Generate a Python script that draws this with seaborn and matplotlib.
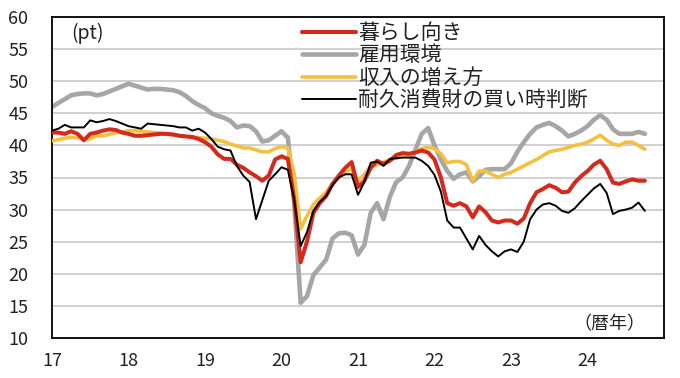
import numpy as np
import pandas as pd
import matplotlib
matplotlib.use("Agg")
import matplotlib.pyplot as plt
import seaborn as sns

# ---- data (monthly, Jan 2017 - Oct 2024) ----
start_year = 2017
labels = ["暮らし向き", "雇用環境", "収入の増え方", "耐久消費財の買い時判断"]

kurashi = [
    42.0, 42.0, 41.8, 42.2, 41.8, 40.8, 41.8, 42.0, 42.3, 42.5, 42.4, 42.0,
    41.8, 41.5, 41.5, 41.6, 41.7, 41.8, 41.8, 41.7, 41.5, 41.4, 41.3, 41.0,
    40.5, 39.8, 38.6, 37.9, 37.9, 37.0, 36.5, 35.8, 35.2, 34.5, 35.3, 37.8,
    38.3, 37.9, 31.5, 21.8, 25.0, 29.5, 31.0, 32.1, 34.0, 35.3, 36.5, 37.4,
    33.5, 34.5, 36.5, 37.6, 37.1, 37.6, 38.5, 38.8, 38.7, 38.9, 39.2, 38.9,
    37.8, 35.0, 31.0, 30.6, 31.0, 30.5, 28.8, 30.5, 29.6, 28.3, 28.0, 28.3,
    28.3, 27.8, 28.6, 31.0, 32.7, 33.2, 33.8, 33.4, 32.7, 32.8, 34.2, 35.2,
    36.0, 37.0, 37.6, 36.3, 34.2, 34.0, 34.4, 34.7, 34.5, 34.5]

koyo = [
    46.0, 46.6, 47.2, 47.8, 48.0, 48.1, 48.1, 47.8, 48.0, 48.4, 48.8, 49.2,
    49.6, 49.3, 49.0, 48.7, 48.8, 48.8, 48.7, 48.6, 48.3, 47.7, 46.9, 46.3,
    45.8, 45.0, 44.6, 44.3, 43.8, 42.8, 43.1, 43.0, 42.2, 40.6, 40.8, 41.5,
    42.2, 41.2, 31.0, 15.5, 16.5, 19.8, 21.0, 22.2, 25.5, 26.3, 26.4, 26.0,
    23.0, 24.5, 29.5, 31.0, 28.5, 32.0, 34.3, 35.0, 36.8, 39.3, 41.8, 42.7,
    40.0, 37.8, 36.0, 34.8, 35.5, 35.8, 34.4, 35.2, 36.2, 36.3, 36.3, 36.3,
    37.2, 39.0, 40.5, 41.8, 42.8, 43.2, 43.5, 43.0, 42.3, 41.4, 41.8, 42.3,
    43.0, 44.0, 44.7, 44.0, 42.5, 41.8, 41.8, 41.8, 42.1, 41.8]

shunyu = [
    40.7, 40.9, 41.1, 41.3, 41.2, 41.0, 41.0, 41.5, 41.5, 41.7, 42.0, 42.1,
    42.3, 42.3, 42.2, 42.1, 42.0, 41.9, 41.8, 41.6, 41.5, 41.4, 41.3, 41.2,
    41.1, 41.0, 40.8, 40.6, 40.2, 39.9, 39.6, 39.6, 39.3, 39.0, 39.0, 39.5,
    39.8, 39.6, 35.5, 27.0, 29.0, 30.8, 31.8, 32.7, 34.0, 35.0, 35.8, 36.3,
    34.5, 35.5, 36.8, 37.0, 37.4, 37.8, 38.0, 38.3, 38.5, 39.0, 39.5, 39.7,
    39.5, 38.7, 37.3, 37.5, 37.5, 37.0, 34.5, 36.0, 36.0, 35.5, 35.0, 35.5,
    35.8, 36.3, 36.8, 37.3, 37.8, 38.4, 39.0, 39.2, 39.4, 39.7, 40.0, 40.2,
    40.5, 41.0, 41.6, 40.8, 40.2, 40.0, 40.5, 40.5, 40.0, 39.4]

taikyu = [
    42.3, 42.6, 43.2, 42.8, 42.8, 42.8, 43.9, 43.6, 43.8, 44.1, 43.8, 43.4,
    43.0, 42.8, 42.6, 43.4, 43.3, 43.2, 43.1, 43.0, 42.8, 42.8, 42.3, 42.6,
    42.0, 41.0, 39.8, 39.4, 39.2, 36.8, 35.3, 34.3, 28.5, 31.5, 34.5, 35.5,
    36.6, 36.2, 31.5, 24.3, 26.5, 29.8, 31.2, 32.1, 33.8, 35.0, 35.5, 35.5,
    32.3, 34.3, 37.3, 37.5, 36.8, 37.9, 38.0, 38.1, 38.1, 38.1, 37.6, 36.8,
    35.4, 32.8, 28.3, 27.2, 27.2, 25.5, 23.8, 25.9, 24.5, 23.5, 22.7, 23.5,
    23.8, 23.4, 25.0, 28.5, 30.0, 30.8, 31.0, 30.6, 29.8, 29.5, 30.2, 31.3,
    32.3, 33.3, 34.0, 32.6, 29.3, 29.8, 30.0, 30.3, 31.1, 29.8]

year_ticks = list(range(2017, 2025))
year_labels = ["17", "18", "19", "20", "21", "22", "23", "24"]
y_ticks = list(range(10, 61, 5))

n = len(kurashi)
t = start_year + np.arange(n) / 12.0
df = pd.DataFrame({"t": t, labels[0]: kurashi, labels[1]: koyo,
                   labels[2]: shunyu, labels[3]: taikyu})

sns.set_theme(style="white")
plt.rcParams["font.family"] = ["Noto Sans CJK JP", "DejaVu Sans"]

fig = plt.figure(figsize=(6.8, 3.78), dpi=100)
ax = fig.add_axes([52 / 680, 40 / 378, 612 / 680, 321 / 378])

styles = {
    labels[1]: dict(color="#a6a6a6", lw=3.3, z=2),
    labels[2]: dict(color="#f3c040", lw=2.6, z=3),
    labels[0]: dict(color="#d42a1e", lw=2.9, z=4),
    labels[3]: dict(color="#000000", lw=1.4, z=5),
}
handles = {}
for name in [labels[1], labels[2], labels[0], labels[3]]:
    s = styles[name]
    sns.lineplot(data=df, x="t", y=name, ax=ax, color=s["color"],
                 linewidth=s["lw"], zorder=s["z"], label=name)
    handles[name] = ax.lines[-1]

ax.set_xlim(2017, 2025)
ax.set_ylim(10, 60)
ax.set_yticks(y_ticks)
ax.set_xticks(year_ticks)
ax.set_xticklabels(year_labels)
ax.set_xlabel("")
ax.set_ylabel("")
ax.yaxis.grid(True, color="#c8c8c8", linewidth=1.2, zorder=0)
ax.xaxis.grid(False)
ax.set_axisbelow(True)
for sp in ax.spines.values():
    sp.set_visible(True)
    sp.set_color("black")
    sp.set_linewidth(1.3)

ax.tick_params(axis="y", length=0, pad=17, labelsize=13, colors="#222222")
ax.tick_params(axis="x", direction="in", length=5, width=1.2, color="black",
               pad=10, labelsize=13, labelcolor="#222222")

leg = ax.legend([handles[l] for l in labels], labels, loc="upper left",
                bbox_to_anchor=(302 / 680, 1 - 22 / 378),
                bbox_transform=fig.transFigure, frameon=False,
                fontsize=15, handlelength=2.6, handletextpad=0.1,
                labelspacing=0.02, borderpad=0, borderaxespad=0)
for txt in leg.get_texts():
    txt.set_color("#222222")

ax.text(2017.46, 57.4, "(pt)", fontsize=14, ha="center", va="center",
        color="#222222")
ax.text(2024.29, 12.2, "（暦年）", fontsize=13, ha="center", va="center",
        color="#222222")

fig.savefig("out.png", dpi=100)
